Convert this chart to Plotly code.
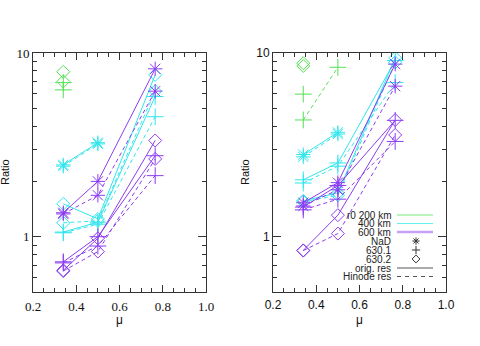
"""
Ratio vs mu for three flux-tube radii (r0), two panels, IDL-style axes.
"""

import math

import plotly.graph_objects as go

# ---------------------------------------------------------------------------
# Data
# ---------------------------------------------------------------------------

MU = [0.34, 0.50, 0.765]

# left panel
L200_6301_ORIG = [6.9, None, None]
L200_6301_HIN = [6.3, None, None]
L200_6302_ORIG = [7.9, None, None]
L200_6302_HIN = [7.0, None, None]
L400_NAD_ORIG = [2.46, 3.25, None]
L400_NAD_HIN = [2.42, 3.2, None]
L400_6301_ORIG = [1.06, 1.20, 5.8]
L400_6301_HIN = [1.05, 1.17, 4.5]
L400_6302_ORIG = [1.51, 1.25, 7.6]
L400_6302_HIN = [1.19, 1.22, 6.2]
L600_NAD_ORIG = [1.35, 2.0, 8.2]
L600_NAD_HIN = [1.33, 1.68, 6.2]
L600_6301_ORIG = [0.73, 1.0, 2.76]
L600_6301_HIN = [0.72, 0.89, 2.15]
L600_6302_ORIG = [0.656, 0.98, 3.34]
L600_6302_HIN = [0.65, 0.83, 2.65]

# right panel
R200_6301_ORIG = [5.97, None, None]
R200_6301_HIN = [4.32, 8.36, None]
R200_6302_ORIG = [8.8, None, None]
R200_6302_HIN = [8.5, None, None]
R400_NAD_ORIG = [2.8, 3.7, None]
R400_NAD_HIN = [2.72, 3.62, None]
R400_6301_ORIG = [2.04, 2.52, 9.1]
R400_6301_HIN = [1.96, 2.42, 6.9]
R400_6302_ORIG = [1.57, 1.73, 9.4]
R400_6302_HIN = [1.55, 1.68, 8.9]
R600_NAD_ORIG = [1.53, 1.97, 8.7]
R600_NAD_HIN = [1.47, 1.8, 6.6]
R600_6301_ORIG = [1.45, 1.9, 4.3]
R600_6301_HIN = [1.4, 1.6, 3.3]
R600_6302_ORIG = [0.843, 1.31, 4.32]
R600_6302_HIN = [0.84, 1.04, 3.58]

LEGEND_LABELS = ["r0 200 km", "400 km", "600 km", "NaD", "630.1", "630.2",
                 "orig. res", "Hinode res"]

# ---------------------------------------------------------------------------
# Style
# ---------------------------------------------------------------------------

W, H = 480, 346
COL = {"200": "#55e055", "400": "#30e6ec", "600": "#8c3cf0"}
SYM = {"NaD": "asterisk-open", "6301": "cross-thin-open", "6302": "diamond-open"}
SIZE = {"NaD": 12, "6301": 12, "6302": 10}
DASH = {"orig": "solid", "hin": "4px,3px"}

PANELS = [
    ("x", "y", 33, 206, "Liberation Serif", 13, [
        ("200", "6301", "orig", L200_6301_ORIG), ("200", "6301", "hin", L200_6301_HIN),
        ("200", "6302", "orig", L200_6302_ORIG), ("200", "6302", "hin", L200_6302_HIN),
        ("400", "NaD", "orig", L400_NAD_ORIG), ("400", "NaD", "hin", L400_NAD_HIN),
        ("400", "6301", "orig", L400_6301_ORIG), ("400", "6301", "hin", L400_6301_HIN),
        ("400", "6302", "orig", L400_6302_ORIG), ("400", "6302", "hin", L400_6302_HIN),
        ("600", "NaD", "orig", L600_NAD_ORIG), ("600", "NaD", "hin", L600_NAD_HIN),
        ("600", "6301", "orig", L600_6301_ORIG), ("600", "6301", "hin", L600_6301_HIN),
        ("600", "6302", "orig", L600_6302_ORIG), ("600", "6302", "hin", L600_6302_HIN),
    ]),
    ("x2", "y2", 273, 446, "Liberation Sans", 12, [
        ("200", "6301", "orig", R200_6301_ORIG), ("200", "6301", "hin", R200_6301_HIN),
        ("200", "6302", "orig", R200_6302_ORIG), ("200", "6302", "hin", R200_6302_HIN),
        ("400", "NaD", "orig", R400_NAD_ORIG), ("400", "NaD", "hin", R400_NAD_HIN),
        ("400", "6301", "orig", R400_6301_ORIG), ("400", "6301", "hin", R400_6301_HIN),
        ("400", "6302", "orig", R400_6302_ORIG), ("400", "6302", "hin", R400_6302_HIN),
        ("600", "NaD", "orig", R600_NAD_ORIG), ("600", "NaD", "hin", R600_NAD_HIN),
        ("600", "6301", "orig", R600_6301_ORIG), ("600", "6301", "hin", R600_6301_HIN),
        ("600", "6302", "orig", R600_6302_ORIG), ("600", "6302", "hin", R600_6302_HIN),
    ]),
]

TOP, BOTTOM = 53, 292
Y_DOMAIN = [(H - BOTTOM) / H, (H - TOP) / H]

fig = go.Figure()

for xa, ya, x0, x1, tfont, tsize, series in PANELS:
    for r0, line, res, vals in series:
        fig.add_trace(go.Scatter(
            x=MU, y=vals, xaxis=xa, yaxis=ya,
            mode="lines+markers",
            line=dict(color=COL[r0], width=1, dash=DASH[res]),
            marker=dict(symbol=SYM[line], size=SIZE[line], color=COL[r0],
                        line=dict(color=COL[r0], width=1)),
            showlegend=False, hoverinfo="skip",
        ))

    ax = dict(
        domain=[x0 / W, x1 / W], range=[0.2, 1.0], dtick=0.2, tickformat=".1f",
        ticks="inside", ticklen=7, tickcolor="#333", showline=True,
        linecolor="#333", linewidth=1, mirror="allticks", showgrid=False,
        zeroline=False, tickfont=dict(family=tfont, size=tsize, color="#111"),
        ticklabelstandoff=2,
        minor=dict(dtick=0.05, ticks="inside", ticklen=4, tickcolor="#333"),
        anchor=ya, automargin=False,
    )
    ay = dict(
        domain=Y_DOMAIN, type="log", range=[math.log10(0.5), 1],
        tickvals=[1, 10], ticktext=["1", "10"],
        ticks="inside", ticklen=8, tickcolor="#333", showline=True,
        linecolor="#333", linewidth=1, mirror="allticks", showgrid=False,
        zeroline=False, tickfont=dict(family=tfont, size=tsize, color="#111"),
        minor=dict(tickvals=[0.5, 0.6, 0.7, 0.8, 0.9, 2, 3, 4, 5, 6, 7, 8, 9],
                   ticks="inside", ticklen=4, tickcolor="#333"),
        anchor=xa, automargin=False,
    )
    xkey = "xaxis" if xa == "x" else "xaxis" + xa[1:]
    ykey = "yaxis" if ya == "y" else "yaxis" + ya[1:]
    fig.update_layout({xkey: ax, ykey: ay})

    # axis titles
    fig.add_annotation(x=(x0 + x1) / 2 / W, y=1 - 320 / H, xref="paper", yref="paper",
                       xanchor="center", yanchor="middle",
                       text="μ", showarrow=False,
                       font=dict(family="Liberation Sans", size=12, color="#111"))
    fig.add_annotation(x=(x0 - 28) / W, y=1 - 172 / H, xref="paper", yref="paper",
                       xanchor="center", yanchor="middle",
                       text="Ratio", textangle=-90, showarrow=False,
                       font=dict(family="Liberation Sans", size=11, color="#111"))

# ---------------------------------------------------------------------------
# Legend (right panel), drawn on a pixel-space overlay axis
# ---------------------------------------------------------------------------

LEG_ROWS = [215, 223.5, 232, 241, 250, 259, 268, 276.5]
TEXT_RIGHT, LINE_L, LINE_R, SYM_X = 393, 397, 433, 416

for lab, yy in zip(LEGEND_LABELS, LEG_ROWS):
    fig.add_annotation(x=TEXT_RIGHT, y=yy, xref="x3", yref="y3", text=lab,
                       xanchor="right", yanchor="middle", showarrow=False,
                       font=dict(family="Liberation Sans", size=10, color="#222"))

leg_lines = [
    (LEG_ROWS[0], "#77e877", 1, "solid"),
    (LEG_ROWS[1], "#66eef2", 1, "solid"),
    (LEG_ROWS[2], "#c6a2f6", 2.5, "solid"),
    (LEG_ROWS[6], "#555555", 1, "solid"),
    (LEG_ROWS[7], "#555555", 1, "4px,4px"),
]
for yy, c, w, d in leg_lines:
    fig.add_trace(go.Scatter(x=[LINE_L, LINE_R], y=[yy, yy], xaxis="x3", yaxis="y3",
                             mode="lines", line=dict(color=c, width=w, dash=d),
                             showlegend=False, hoverinfo="skip"))

for yy, key in zip(LEG_ROWS[3:6], ["NaD", "6301", "6302"]):
    fig.add_trace(go.Scatter(x=[SYM_X], y=[yy], xaxis="x3", yaxis="y3", mode="markers",
                             marker=dict(symbol=SYM[key], size=6, color="#333",
                                         line=dict(color="#333", width=1)),
                             showlegend=False, hoverinfo="skip"))

fig.update_layout(
    xaxis3=dict(domain=[0, 1], range=[0, W], visible=False, anchor="y3",
                automargin=False),
    yaxis3=dict(domain=[0, 1], range=[H, 0], visible=False, anchor="x3",
                automargin=False),
    width=W, height=H,
    margin=dict(l=0, r=0, t=0, b=0, pad=0, autoexpand=False),
    paper_bgcolor="white", plot_bgcolor="rgba(0,0,0,0)",
    showlegend=False,
)

# page body has a default 8px margin; drop it so the figure sits at (0, 0)
fig.write_html("out.html", config={"displayModeBar": False},
               post_script="document.body.style.margin='0';document.body.style.padding='0';")
